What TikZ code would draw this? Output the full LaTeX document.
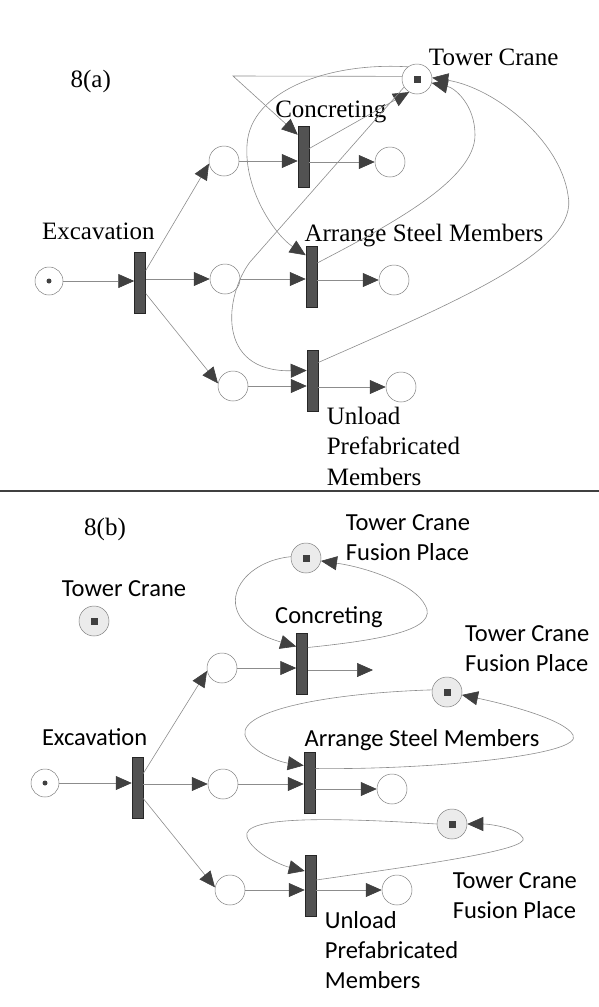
\documentclass[tikz,border=0pt]{standalone}
\usepackage{fontspec}
\setmainfont{Liberation Serif}
\newfontfamily\labelsans{Carlito}
\usepackage{tikz}
\usetikzlibrary{arrows.meta}

\tikzset{
  place/.style={circle, draw=black!50, fill=white, line width=0.5pt, minimum size=30pt, inner sep=0pt},
  fusion/.style={place, fill=black!8, path picture={\fill[black!75] ([shift={(-3.5pt,-3.5pt)}]path picture bounding box.center) rectangle ([shift={(3.5pt,3.5pt)}]path picture bounding box.center);}},
  crane/.style={fusion, fill=white},
  startplace/.style={place, minimum size=28pt, path picture={\fill[black!75] (path picture bounding box.center) circle (2.5pt);}},
  trans/.style={rectangle, draw=black!85, fill=black!68, line width=0.5pt, minimum width=11pt, minimum height=61pt, inner sep=0pt},
  flow/.style={draw=black!45, line width=0.6pt, -{Triangle[length=16pt,width=14pt,color=black!75]}},
  lbl/.style={inner sep=0pt, anchor=base, font=\fontsize{25}{30.5}\selectfont},
  lblb/.style={lbl, font=\labelsans\fontsize{24.5}{30}\selectfont},
}

\begin{document}
\begin{tikzpicture}[x=1pt, y=-1pt]
    \useasboundingbox (0,0) rectangle (599,1007);

    \node[lbl] (la-8a) at (90.7,87.3) {8(a)};
    \node[startplace] (pa-start) at (49,281) {};
    \node[trans] (ta-exc) at (140,282.5) {};
    \node[place] (pa-c1) at (224,161) {};
    \node[trans] (ta-conc) at (303.5,156.5) {};
    \node[place] (pa-c2) at (390,162) {};
    \node[place] (pa-s1) at (225,279) {};
    \node[trans] (ta-steel) at (311.5,277) {};
    \node[place] (pa-s2) at (394,280) {};
    \node[place] (pa-u1) at (233,386) {};
    \node[trans] (ta-unl) at (312.5,380.5) {};
    \node[place] (pa-u2) at (401,387) {};
    \node[crane] (pa-crane) at (417,79) {};

    \node[lbl] (la-crane) at (493.7,65.7) {Tower Crane};
    \node[lbl] (la-conc) at (330.8,117.3) {Concreting};
    \node[lbl] (la-exc) at (98.3,239.3) {Excavation};
    \node[lbl] (la-steel) at (424,241.7) {Arrange Steel Members};
    \node[lbl, anchor=base west, align=left] (la-unl) at (326.6,485) {Unload\\Prefabricated\\Members};

    \draw[flow] (pa-start) -- (pa-start -| ta-exc.west);
    \draw[flow] (ta-exc.east |- pa-s1) -- (pa-s1);
    \draw[flow] ([yshift=12pt]ta-exc.east) -- (pa-c1.190);
    \draw[flow] ([yshift=-11pt]ta-exc.east) -- (pa-u1.170);
    \draw[flow] (pa-c1) -- (pa-c1 -| ta-conc.west);
    \draw[flow] (ta-conc.east |- pa-c2) -- (pa-c2);
    \draw[flow] (pa-s1) -- (pa-s1 -| ta-steel.west);
    \draw[flow] (ta-steel.east |- pa-s2) -- (pa-s2);
    \draw[flow] (pa-u1) -- (pa-u1 -| ta-unl.west);
    \draw[flow] (ta-unl.east |- pa-u2) -- (pa-u2);

    \draw[flow] (pa-crane.170) -- (233,76) -- ([yshift=-9pt]ta-conc.north west);
    \draw[flow] ([yshift=8pt]ta-conc.east) -- (pa-crane.239);
    \draw[flow] (pa-crane.212) -- (250,262) .. controls (225,295) and (215,372) .. ([yshift=10pt]ta-unl.west);
    \draw[flow] (pa-crane.127) .. controls (330,62) and (250,90) .. (247,145) .. controls (244,190) and (275,235) .. ([yshift=-9pt]ta-steel.north west);
    \draw[flow] ([yshift=14pt]ta-steel.east) .. controls (390,225) and (475,180) .. (475,135) .. controls (475,105) and (455,88) .. (pa-crane.345);
    \draw[flow] ([yshift=18pt]ta-unl.east) .. controls (460,300) and (580,250) .. (568,195) .. controls (560,140) and (495,88) .. (pa-crane.5);

    \draw[line width=2pt, black!75] (0,491) -- (599,491);

    \node[lbl] (lb-8b) at (105,535) {8(b)};
    \node[fusion] (pb-tc) at (94,621) {};
    \node[fusion] (pb-f1) at (306,558) {};
    \node[startplace] (pb-start) at (45,783) {};
    \node[trans] (tb-exc) at (137.5,787.5) {};
    \node[place] (pb-c1) at (222,668) {};
    \node[trans] (tb-conc) at (302,663.5) {};
    \coordinate (cb-out) at (373,670);
    \node[fusion] (pb-f2) at (447,692) {};
    \node[place] (pb-s1) at (223,784) {};
    \node[trans] (tb-steel) at (309.5,782.5) {};
    \node[place] (pb-s2) at (392,789) {};
    \node[fusion] (pb-f3) at (452,824) {};
    \node[place] (pb-u1) at (230,890) {};
    \node[trans] (tb-unl) at (310.5,886) {};
    \node[place] (pb-u2) at (397,890) {};

    \node[lblb, anchor=base west, align=left] (lb-f1) at (345.7,560) {Tower Crane\\Fusion Place};
    \node[lblb] (lb-crane) at (124,596.7) {Tower Crane};
    \node[lblb] (lb-conc) at (329,623) {Concreting};
    \node[lblb, anchor=base west, align=left] (lb-f2) at (465,671.7) {Tower Crane\\Fusion Place};
    \node[lblb] (lb-exc) at (94.6,745) {Excavation};
    \node[lblb] (lb-steel) at (422,746.7) {Arrange Steel Members};
    \node[lblb, anchor=base west, align=left] (lb-f3) at (452.6,918.3) {Tower Crane\\Fusion Place};
    \node[lblb, anchor=base west, align=left] (lb-unl) at (324.7,988.3) {Unload\\Prefabricated\\Members};

    \draw[flow] (pb-start) -- (pb-start -| tb-exc.west);
    \draw[flow] (tb-exc.east |- pb-s1) -- (pb-s1);
    \draw[flow] ([yshift=14pt]tb-exc.east) -- (pb-c1.191);
    \draw[flow] ([yshift=-11pt]tb-exc.east) -- (pb-u1.170);
    \draw[flow] (pb-c1) -- (pb-c1 -| tb-conc.west);
    \draw[flow] (tb-conc.east |- cb-out) -- (cb-out);
    \draw[flow] (pb-s1) -- (pb-s1 -| tb-steel.west);
    \draw[flow] (tb-steel.east |- pb-s2) -- (pb-s2);
    \draw[flow] (pb-u1) -- (pb-u1 -| tb-unl.west);
    \draw[flow] (tb-unl.east |- pb-u2) -- (pb-u2);

    \draw[flow] (pb-f1.175) .. controls (235,562) and (205,620) .. ([yshift=17pt]tb-conc.west);
    \draw[flow] ([yshift=16pt]tb-conc.east) .. controls (380,640) and (440,630) .. (425,605) .. controls (415,585) and (370,568) .. (pb-f1.349);
    \draw[flow] (pb-f2.172) .. controls (330,693) and (240,710) .. (245,735) .. controls (250,752) and (280,762) .. ([yshift=17pt]tb-steel.west);
    \draw[flow] ([yshift=14pt]tb-steel.east) .. controls (430,770) and (585,755) .. (573,735) .. controls (565,720) and (510,705) .. (pb-f2.349);
    \draw[flow] (pb-f3.180) .. controls (340,818) and (240,815) .. (247,837) .. controls (252,852) and (280,865) .. ([yshift=15pt]tb-unl.west);
    \draw[flow] ([yshift=6pt]tb-unl.east) .. controls (420,865) and (530,850) .. (523,838) .. controls (518,828) and (490,824) .. (pb-f3.0);
\end{tikzpicture}
\end{document}
